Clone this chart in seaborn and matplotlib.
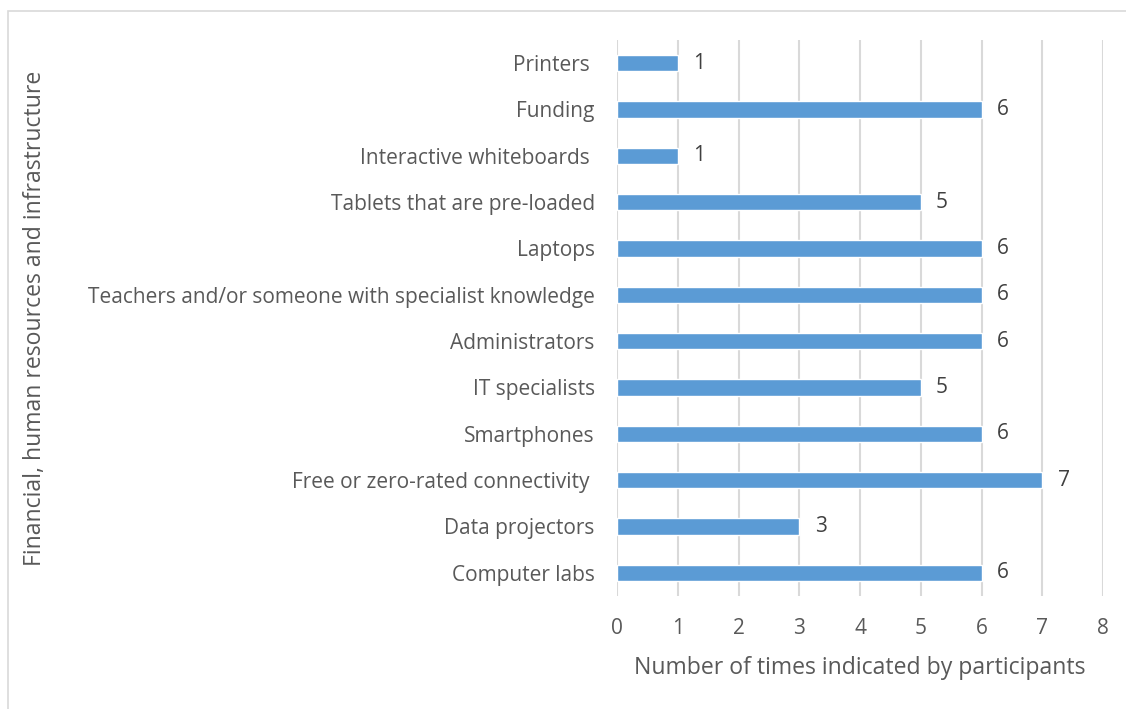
import matplotlib
matplotlib.use("Agg")
import matplotlib.pyplot as plt
import seaborn as sns
import pandas as pd

# data
items = ["Printers ", "Funding", "Interactive whiteboards ", "Tablets that are pre-loaded",
         "Laptops", "Teachers and/or someone with specialist knowledge", "Administrators",
         "IT specialists", "Smartphones", "Free or zero-rated connectivity ",
         "Data projectors", "Computer labs"]
counts = [1, 6, 1, 5, 6, 6, 6, 5, 6, 7, 3, 6]
x_ticks = [0, 1, 2, 3, 4, 5, 6, 7, 8]

df = pd.DataFrame({"item": items, "count": counts})

sns.set_style("white")
plt.rcParams["font.family"] = ["Open Sans", "DejaVu Sans"]
text_col = "#595959"

fig = plt.figure(figsize=(11.26, 7.09), dpi=100)
ax = fig.add_axes([0.548, 0.1594, 0.4316, 0.7842])

sns.barplot(data=df, x="count", y="item", color="#5B9BD5", width=0.35,
            saturation=1, ax=ax, zorder=3)

for cont in ax.containers:
    ax.bar_label(cont, padding=11, fontsize=15, color="#404040")

ax.set_xlim(0, 8)
ax.set_xticks(x_ticks)
ax.xaxis.grid(True, color="#D9D9D9", linewidth=1.5, zorder=0)
ax.set_axisbelow(True)
sns.despine(ax=ax, left=True, bottom=True)
ax.tick_params(axis="both", length=0, labelsize=15, labelcolor=text_col)
ax.tick_params(axis="y", pad=16)
ax.tick_params(axis="x", pad=16)
ax.set_xlabel("Number of times indicated by participants", fontsize=16.6,
              color=text_col, labelpad=12)
ax.set_ylabel("Financial, human resources and infrastructure", fontsize=16.6,
              color=text_col)
ax.yaxis.set_label_coords(-1.174, 0.5)

# chart area border
fig.patches.append(plt.Rectangle((8 / 1126, -0.05), 1.1, 1 - 11 / 709 + 0.05,
                                 transform=fig.transFigure, fill=False,
                                 edgecolor="#D9D9D9", linewidth=1.2))

fig.savefig("out.png", dpi=100)
